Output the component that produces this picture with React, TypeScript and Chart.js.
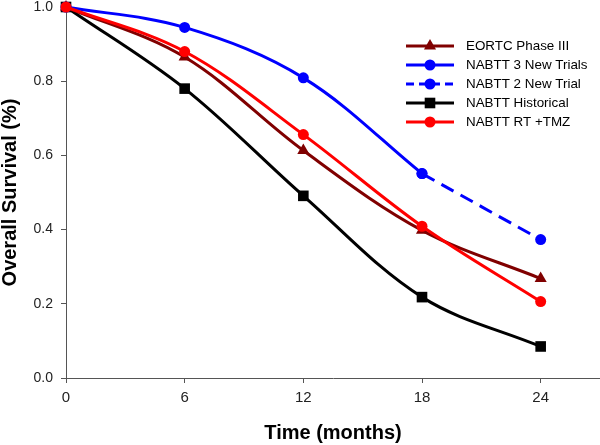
import React, { useEffect, useRef } from "react";
import { Chart, registerables } from "chart.js";

Chart.register(...registerables);

const MONTHS = [0, 6, 12, 18, 24];
const X_TICKS = [0, 6, 12, 18, 24];
const Y_TICKS = [0, 0.2, 0.4, 0.6, 0.8, 1.0];

const EORTC = [1.0, 0.865, 0.613, 0.398, 0.268];
const NABTT3_MONTHS = [0, 6, 12, 18];
const NABTT3 = [1.0, 0.945, 0.809, 0.551];
const NABTT2_MONTHS = [18, 24];
const NABTT2 = [0.551, 0.373];
const HISTORICAL = [1.0, 0.78, 0.491, 0.218, 0.085];
const RTTMZ = [1.0, 0.88, 0.656, 0.409, 0.206];

const LEGEND_LABELS = [
  "EORTC Phase III",
  "NABTT 3 New Trials",
  "NABTT 2 New Trial",
  "NABTT Historical",
  "NABTT RT +TMZ",
];

const FONT = "'Liberation Sans', Arial, Helvetica, sans-serif";

const toXY = (xs: number[], ys: number[]) => xs.map((x, i) => ({ x, y: ys[i] }));

type Style = {
  color: string;
  pointStyle: string;
  radius: number;
  dash: number[];
};

const STYLES: Style[] = [
  { color: "#800000", pointStyle: "triangle", radius: 7, dash: [] },
  { color: "#0000ff", pointStyle: "circle", radius: 5.5, dash: [] },
  { color: "#0000ff", pointStyle: "circle", radius: 5.5, dash: [14, 8] },
  { color: "#000000", pointStyle: "rect", radius: 7.5, dash: [] },
  { color: "#ff0000", pointStyle: "circle", radius: 5.5, dash: [] },
];

function drawMarker(ctx: CanvasRenderingContext2D, style: string, r: number, x: number, y: number) {
  ctx.beginPath();
  if (style === "circle") {
    ctx.arc(x, y, r, 0, Math.PI * 2);
  } else if (style === "rect") {
    const s = Math.SQRT1_2 * r;
    ctx.rect(x - s, y - s, 2 * s, 2 * s);
  } else if (style === "triangle") {
    const rad = -Math.PI / 2;
    ctx.moveTo(x + Math.cos(rad) * r, y + Math.sin(rad) * r);
    ctx.lineTo(x + Math.cos(rad + (2 * Math.PI) / 3) * r, y + Math.sin(rad + (2 * Math.PI) / 3) * r);
    ctx.lineTo(x + Math.cos(rad + (4 * Math.PI) / 3) * r, y + Math.sin(rad + (4 * Math.PI) / 3) * r);
    ctx.closePath();
  }
  ctx.fill();
}

const legendPlugin = {
  id: "customLegend",
  afterDraw(chart: any) {
    const ctx = chart.ctx as CanvasRenderingContext2D;
    ctx.save();
    LEGEND_LABELS.forEach((label, i) => {
      const s = STYLES[i];
      const y = 46 + i * 19;
      ctx.strokeStyle = s.color;
      ctx.lineWidth = 3;
      ctx.setLineDash(s.dash.length ? [8, 5] : []);
      ctx.beginPath();
      ctx.moveTo(406, y);
      ctx.lineTo(454, y);
      ctx.stroke();
      ctx.setLineDash([]);
      ctx.fillStyle = s.color;
      drawMarker(ctx, s.pointStyle, s.radius, 430, y);
      ctx.fillStyle = "#000";
      ctx.font = `13.4px ${FONT}`;
      ctx.textBaseline = "middle";
      ctx.textAlign = "left";
      ctx.fillText(label, 466, y);
    });
    ctx.restore();
  },
};

export default function App() {
  const ref = useRef<HTMLCanvasElement | null>(null);

  useEffect(() => {
    if (!ref.current) return;
    const mk = (i: number, data: { x: number; y: number }[], order: number) => {
      const s = STYLES[i];
      return {
        label: LEGEND_LABELS[i],
        data,
        borderColor: s.color,
        backgroundColor: s.color,
        pointBackgroundColor: s.color,
        pointBorderColor: s.color,
        pointBorderWidth: 0,
        pointStyle: s.pointStyle,
        pointRadius: s.radius,
        pointHoverRadius: s.radius,
        borderWidth: 3,
        borderDash: s.dash,
        tension: 0.35,
        fill: false,
        order,
      };
    };

    const chart = new Chart(ref.current, {
      type: "line",
      data: {
        datasets: [
          mk(0, toXY(MONTHS, EORTC), 3),
          mk(1, toXY(NABTT3_MONTHS, NABTT3), 2),
          mk(2, toXY(NABTT2_MONTHS, NABTT2), 2),
          mk(3, toXY(MONTHS, HISTORICAL), 4),
          mk(4, toXY(MONTHS, RTTMZ), 0),
        ] as any,
      },
      options: {
        animation: false,
        responsive: false,
        maintainAspectRatio: false,
        clip: false as any,
        layout: { autoPadding: false, padding: { top: 7, left: 0, right: 0, bottom: 0 } } as any,
        plugins: {
          legend: { display: false },
          tooltip: { enabled: false },
        },
        scales: {
          x: {
            type: "linear",
            min: 0,
            max: 27,
            afterBuildTicks: (scale: any) => {
              scale.ticks = X_TICKS.map((v) => ({ value: v }));
            },
            afterFit: (scale: any) => {
              scale.height = 67;
              scale.paddingLeft = 0;
              scale.paddingRight = 0;
              scale.paddingTop = 0;
              scale.paddingBottom = 0;
            },
            grid: { drawOnChartArea: false, drawTicks: true, tickLength: 5, color: "#555" },
            border: { display: true, color: "#555", width: 1 },
            ticks: {
              font: { family: FONT, size: 15 },
              color: "#222",
              padding: 6,
              maxRotation: 0,
            },
            title: {
              display: true,
              text: "Time (months)",
              font: { family: FONT, size: 20, weight: "bold", lineHeight: 1 },
              color: "#000",
              padding: { top: 0, bottom: 2 },
            },
          },
          y: {
            type: "linear",
            min: 0,
            max: 1,
            afterBuildTicks: (scale: any) => {
              scale.ticks = Y_TICKS.map((v) => ({ value: v }));
            },
            afterFit: (scale: any) => {
              scale.width = 66;
              scale.paddingLeft = 0;
              scale.paddingRight = 0;
              scale.paddingTop = 0;
              scale.paddingBottom = 0;
            },
            grid: { drawOnChartArea: false, drawTicks: true, tickLength: 5, color: "#555" },
            border: { display: true, color: "#555", width: 1 },
            ticks: {
              font: { family: FONT, size: 14 },
              color: "#222",
              padding: 8,
              callback: (v: any) => Number(v).toFixed(1),
            },
            title: {
              display: true,
              text: "Overall Survival (%)",
              font: { family: FONT, size: 20, weight: "bold", lineHeight: 1 },
              color: "#000",
              padding: { top: 0, bottom: 0 },
            },
          },
        },
      },
      plugins: [legendPlugin],
    });
    return () => chart.destroy();
  }, []);

  return (
    <div style={{ position: "absolute", left: 0, top: 0, width: 600, height: 445, background: "#fff" }}>
      <canvas ref={ref} width={600} height={445} style={{ display: "block" }} />
    </div>
  );
}
